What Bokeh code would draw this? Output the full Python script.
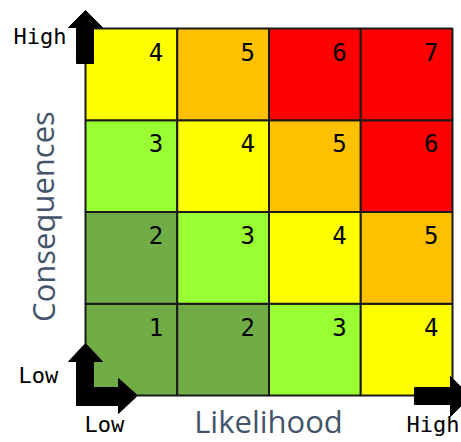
from bokeh.plotting import figure
from bokeh.models import Range1d, ColumnDataSource
from bokeh.embed import file_html
from bokeh.resources import INLINE
from bokeh.core.properties import value

# ---- data ----
likelihood_idx = [0, 1, 2, 3]          # Low -> High
consequence_idx = [0, 1, 2, 3]         # Low -> High
scores = [                             # rows: consequence Low -> High
    [1, 2, 3, 4],
    [2, 3, 4, 5],
    [3, 4, 5, 6],
    [4, 5, 6, 7],
]
score_colors = {1: "#70AD47", 2: "#70AD47", 3: "#99FF33", 4: "#FFFF00",
                5: "#FFC000", 6: "#FF0000", 7: "#FF0000"}
x_title = "Likelihood"
y_title = "Consequences"
low_label = "Low"
high_label = "High"

# ---- layout (pixel geometry of the grid) ----
S = 91.75           # px per cell
GX0, GY0 = 85, 395  # picture px of grid bottom-left
W, H = 461, 442


def dx(px):
    return (px - GX0) / S


def dy(py):
    return (GY0 - py) / S


p = figure(width=W, height=H, output_backend="svg", toolbar_location=None,
           x_range=Range1d(dx(0), dx(W)), y_range=Range1d(dy(H), dy(0)),
           min_border=0, outline_line_color=None, background_fill_color="white")
p.axis.visible = False
p.grid.visible = False

xs, ys, cols, txt = [], [], [], []
for r in consequence_idx:
    for c in likelihood_idx:
        xs.append(c + 0.5)
        ys.append(r + 0.5)
        cols.append(score_colors[scores[r][c]])
        txt.append(str(scores[r][c]))
src = ColumnDataSource(dict(x=xs, y=ys, color=cols, text=txt,
                            tx=[x + 0.5 - 14 / S for x in xs],
                            ty=[y + 0.5 - 23 / S for y in ys]))
p.rect(x="x", y="y", width=1, height=1, source=src, fill_color="color",
       line_color="#1A1A1A", line_width=2)
p.text(x="tx", y="ty", text="text", source=src, text_align="right",
       text_baseline="alphabetic", text_font=value("DejaVu Sans Mono"),
       text_font_size="24px", text_color="black")

# ---- block arrows (decoration, pixel shapes) ----
up_arrow = [(76, 63), (93, 63), (93, 27), (102, 27), (85, 10), (68, 27), (76, 27)]
l_arrow = [(76, 361), (68, 361), (85, 343), (102, 361), (93, 361), (93, 387),
           (118, 387), (118, 378), (137, 395), (118, 413), (118, 405), (76, 405)]
r_arrow = [(414, 387), (450, 387), (450, 376), (470, 396), (450, 416), (450, 404), (414, 404)]
for shape in (up_arrow, l_arrow, r_arrow):
    p.patch([dx(a) for a, b in shape], [dy(b) for a, b in shape],
            fill_color="black", line_color="black", line_width=1)

mono = value("DejaVu Sans Mono")
lab = ColumnDataSource(dict(
    x=[dx(13), dx(18), dx(84), dx(406)],
    y=[dy(36), dy(375), dy(424), dy(424)],
    text=[high_label, low_label, low_label, high_label]))
p.text(x="x", y="y", text="text", source=lab, text_font=mono,
       text_font_size="22px", text_color="black", text_align="left",
       text_baseline="alphabetic")

p.text(x=[dx(268)], y=[dy(420)], text=[x_title], text_font=value("Open Sans"),
       text_font_size="31px", text_color="#44546A", text_align="center",
       text_baseline="alphabetic")
p.text(x=[dx(42)], y=[dy(216)], text=[y_title], text_font=value("Open Sans"),
       text_font_size="31px", text_color="#44546A", text_align="center",
       text_baseline="alphabetic", angle=1.5708)

open("out.html", "w").write(file_html(p, INLINE))
